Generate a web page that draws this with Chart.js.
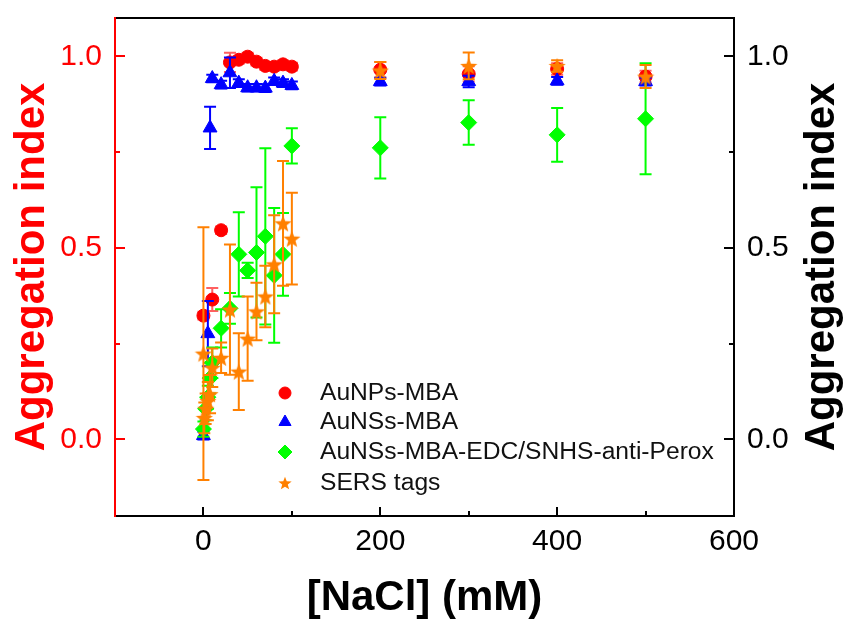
<!DOCTYPE html>
<html>
<head>
<meta charset="utf-8">
<script src="https://cdn.jsdelivr.net/npm/chart.js@4.4.1/dist/chart.umd.min.js"></script>
<style>
  body { margin: 0; background: #fff; }
  #wrap { width: 843px; height: 619px; }
</style>
</head>
<body>
<div id="wrap"><canvas id="chart" width="843" height="619"></canvas></div>
<script>
// Data
const naclNP = [0, 10, 20, 30, 40, 50, 60, 70, 80, 90, 100, 200, 300, 400, 500];
const aggNP  = [0.323, 0.365, 0.546, 0.984, 0.991, 0.999, 0.986, 0.975, 0.973, 0.979, 0.973, 0.965, 0.954, 0.967, 0.947];
const errNP  = [0.01, 0.03, 0.01, 0.025, 0.01, 0.01, 0.01, 0.01, 0.01, 0.01, 0.01, 0.02, 0.02, 0.015, 0.015];

const naclNS = [0, 5, 7.5, 10, 20, 30, 40, 50, 60, 70, 80, 90, 100, 200, 300, 400, 500];
const aggNS  = [0.01, 0.276, 0.813, 0.942, 0.926, 0.957, 0.93, 0.918, 0.918, 0.917, 0.935, 0.93, 0.924, 0.934, 0.934, 0.936, 0.934];
const errNS  = [0.01, 0.085, 0.055, 0.01, 0.01, 0.04, 0.01, 0.01, 0.01, 0.01, 0.01, 0.01, 0.01, 0.01, 0.015, 0.01, 0.01];

const naclAb = [0, 2.5, 5, 7.5, 10, 20, 30, 40, 50, 60, 70, 80, 90, 100, 200, 300, 400, 500];
const aggAb  = [0.027, 0.08, 0.11, 0.16, 0.2, 0.29, 0.342, 0.483, 0.441, 0.488, 0.53, 0.428, 0.483, 0.766, 0.761, 0.827, 0.795, 0.837];
const errAb  = [0.02, 0.03, 0.03, 0.04, 0.04, 0.05, 0.04, 0.11, 0.02, 0.17, 0.23, 0.176, 0.108, 0.046, 0.08, 0.058, 0.07, 0.145];

const naclTag = [0, 1, 2.5, 5, 7.5, 10, 20, 30, 40, 50, 60, 70, 80, 90, 100, 200, 300, 400, 500];
const aggTag  = [0.224, 0.056, 0.08, 0.10, 0.118, 0.187, 0.213, 0.339, 0.177, 0.263, 0.334, 0.373, 0.457, 0.564, 0.524, 0.963, 0.975, 0.975, 0.947];
const errTag  = [0.33, 0.04, 0.04, 0.05, 0.05, 0.05, 0.04, 0.17, 0.1, 0.11, 0.075, 0.08, 0.128, 0.163, 0.12, 0.022, 0.035, 0.015, 0.03];

const seriesNames = ['AuNPs-MBA', 'AuNSs-MBA', 'AuNSs-MBA-EDC/SNHS-anti-Perox', 'SERS tags'];
const xTitle = '[NaCl] (mM)';
const yTitle = 'Aggregation index';

const FONT = 'Arial, "Liberation Sans", sans-serif';

function toPoints(xs, ys, es) {
    return xs.map((x, i) => ({ x: x, y: ys[i], err: es[i] }));
}

// filled five point star as an image point style
function makeStar(size, color) {
    const c = document.createElement('canvas');
    c.width = size;
    c.height = size;
    const g = c.getContext('2d');
    const cx = size / 2, cy = size / 2 + size * 0.05;
    const ro = size / 2, ri = ro * 0.42;
    g.beginPath();
    for (let i = 0; i < 10; i++) {
        const r = i % 2 === 0 ? ro : ri;
        const a = -Math.PI / 2 + i * Math.PI / 5;
        g.lineTo(cx + r * Math.cos(a), cy + r * Math.sin(a));
    }
    g.closePath();
    g.fillStyle = color;
    g.fill();
    return c;
}

const ORANGE = '#ff8000';
const starBig = makeStar(18, ORANGE);
const starSmall = makeStar(14, ORANGE);

// error bars drawn under each dataset's markers
const errorBars = {
    id: 'errorBars',
    beforeDatasetDraw(chart, args) {
        const ds = chart.data.datasets[args.index];
        const ctx = chart.ctx;
        const xs = chart.scales.x, ys = chart.scales.y;
        ctx.save();
        ctx.strokeStyle = ds.errorColor;
        ctx.lineWidth = 2;
        ds.data.forEach(p => {
            if (!p.err) return;
            const px = xs.getPixelForValue(p.x);
            const top = ys.getPixelForValue(p.y + p.err);
            const bot = ys.getPixelForValue(p.y - p.err);
            ctx.beginPath();
            ctx.moveTo(px, top); ctx.lineTo(px, bot);
            ctx.moveTo(px - 6, top); ctx.lineTo(px + 6, top);
            ctx.moveTo(px - 6, bot); ctx.lineTo(px + 6, bot);
            ctx.stroke();
        });
        ctx.restore();
    }
};

// frame, inward ticks, titles, legend
const decorations = {
    id: 'decorations',
    afterDraw(chart) {
        const ctx = chart.ctx;
        const a = chart.chartArea;
        const xs = chart.scales.x, ys = chart.scales.y;
        ctx.save();
        ctx.lineWidth = 2;

        // ticks on bottom
        ctx.strokeStyle = '#000';
        xs.ticks.forEach(t => {
            if (t.value <= xs.min || t.value >= xs.max) return;
            const len = t.value % 200 === 0 ? 9 : 5;
            const px = Math.round(xs.getPixelForValue(t.value));
            ctx.beginPath(); ctx.moveTo(px, a.bottom); ctx.lineTo(px, a.bottom - len); ctx.stroke();
        });
        // ticks on left (red) and right (black)
        ys.ticks.forEach(t => {
            if (t.value <= ys.min || t.value >= ys.max) return;
            const major = Math.abs(t.value * 2 - Math.round(t.value * 2)) < 1e-6;
            const len = major ? 10 : 5;
            const py = Math.round(ys.getPixelForValue(t.value));
            ctx.strokeStyle = '#ff0000';
            ctx.beginPath(); ctx.moveTo(a.left, py); ctx.lineTo(a.left + len, py); ctx.stroke();
            ctx.strokeStyle = '#000';
            ctx.beginPath(); ctx.moveTo(a.right, py); ctx.lineTo(a.right - len, py); ctx.stroke();
        });

        // frame
        ctx.strokeStyle = '#000';
        ctx.beginPath();
        ctx.moveTo(a.left, a.top); ctx.lineTo(a.right, a.top); ctx.lineTo(a.right, a.bottom); ctx.lineTo(a.left, a.bottom);
        ctx.stroke();
        ctx.strokeStyle = '#ff0000';
        ctx.beginPath(); ctx.moveTo(a.left, a.top - 1); ctx.lineTo(a.left, a.bottom + 1); ctx.stroke();

        // axis titles
        const midY = (a.top + a.bottom) / 2;
        ctx.font = 'bold 42px ' + FONT;
        ctx.textAlign = 'center';
        ctx.textBaseline = 'alphabetic';
        ctx.fillStyle = '#ff0000';
        ctx.save(); ctx.translate(44, midY); ctx.rotate(-Math.PI / 2); ctx.fillText(yTitle, 0, 0); ctx.restore();
        ctx.fillStyle = '#000';
        ctx.save(); ctx.translate(834, midY); ctx.rotate(-Math.PI / 2); ctx.fillText(yTitle, 0, 0); ctx.restore();
        ctx.fillText(xTitle, (a.left + a.right) / 2, 610);

        // legend
        const rows = [393, 422, 452, 483];
        const styles = [
            { style: 'circle', r: 6, color: '#ff0000' },
            { style: 'triangle', r: 7, color: '#0000ff' },
            { style: 'rectRot', r: 7, color: '#00ff00' },
            { style: starSmall, r: 7, color: ORANGE }
        ];
        ctx.font = '23px ' + FONT;
        ctx.textAlign = 'left';
        ctx.textBaseline = 'middle';
        rows.forEach((y, i) => {
            ctx.fillStyle = styles[i].color;
            ctx.strokeStyle = styles[i].color;
            ctx.lineWidth = 1;
            Chart.helpers.drawPoint(ctx, { pointStyle: styles[i].style, radius: styles[i].r, rotation: 0, borderWidth: 1 }, 285, y);
            ctx.fillStyle = '#111';
            ctx.save();
            ctx.translate(320, y + 1);
            ctx.scale(1.07, 1);
            ctx.fillText(seriesNames[i], 0, 0);
            ctx.restore();
        });
        ctx.restore();
    }
};

// keep the plot box where the figure has it
function noPad(s) {
    s.paddingTop = 0;
    s.paddingBottom = 0;
    s.paddingLeft = 0;
    s.paddingRight = 0;
}

const ctx = document.getElementById('chart').getContext('2d');
new Chart(ctx, {
    type: 'scatter',
    data: {
        datasets: [
            {
                label: seriesNames[0], data: toPoints(naclNP, aggNP, errNP),
                pointStyle: 'circle', pointRadius: 6.5, backgroundColor: '#ff0000', borderColor: '#ff0000',
                errorColor: '#ff6060', order: 4
            },
            {
                label: seriesNames[1], data: toPoints(naclNS, aggNS, errNS),
                pointStyle: 'triangle', pointRadius: 8, backgroundColor: '#0000ff', borderColor: '#0000ff',
                errorColor: '#0000ff', order: 3
            },
            {
                label: seriesNames[2], data: toPoints(naclAb, aggAb, errAb),
                pointStyle: 'rectRot', pointRadius: 8, backgroundColor: '#00ff00', borderColor: '#00ff00',
                errorColor: '#00ff00', order: 2
            },
            {
                label: seriesNames[3], data: toPoints(naclTag, aggTag, errTag),
                pointStyle: starBig, pointRadius: 9, backgroundColor: ORANGE, borderColor: ORANGE,
                errorColor: ORANGE, order: 1
            }
        ]
    },
    options: {
        responsive: false,
        animation: false,
        events: [],
        layout: { padding: { top: 18, left: 0, right: 0, bottom: 0 } },
        plugins: {
            legend: { display: false },
            tooltip: { enabled: false }
        },
        scales: {
            x: {
                type: 'linear',
                min: -100,
                max: 600,
                grid: { display: false, drawTicks: false },
                border: { display: false },
                afterFit: s => { s.height = 103; noPad(s); },
                ticks: {
                    stepSize: 100,
                    padding: 8,
                    color: '#000',
                    font: { family: FONT, size: 30 },
                    maxRotation: 0,
                    autoSkip: false,
                    callback: v => (v % 200 === 0 ? String(v) : '')
                }
            },
            y: {
                type: 'linear',
                position: 'left',
                min: -0.2,
                max: 1.1,
                grid: { display: false, drawTicks: false },
                border: { display: false },
                afterFit: s => { s.width = 115; noPad(s); },
                ticks: {
                    stepSize: 0.25,
                    padding: 13,
                    color: '#ff0000',
                    font: { family: FONT, size: 30 },
                    autoSkip: false,
                    callback: v => (Math.abs(v * 2 - Math.round(v * 2)) < 1e-6 ? v.toFixed(1) : '')
                }
            },
            y2: {
                type: 'linear',
                position: 'right',
                min: -0.2,
                max: 1.1,
                grid: { display: false, drawTicks: false },
                border: { display: false },
                afterFit: s => { s.width = 109; noPad(s); },
                ticks: {
                    stepSize: 0.25,
                    padding: 13,
                    color: '#000',
                    font: { family: FONT, size: 30 },
                    autoSkip: false,
                    callback: v => (Math.abs(v * 2 - Math.round(v * 2)) < 1e-6 ? v.toFixed(1) : '')
                }
            }
        }
    },
    plugins: [errorBars, decorations]
});
</script>
</body>
</html>
